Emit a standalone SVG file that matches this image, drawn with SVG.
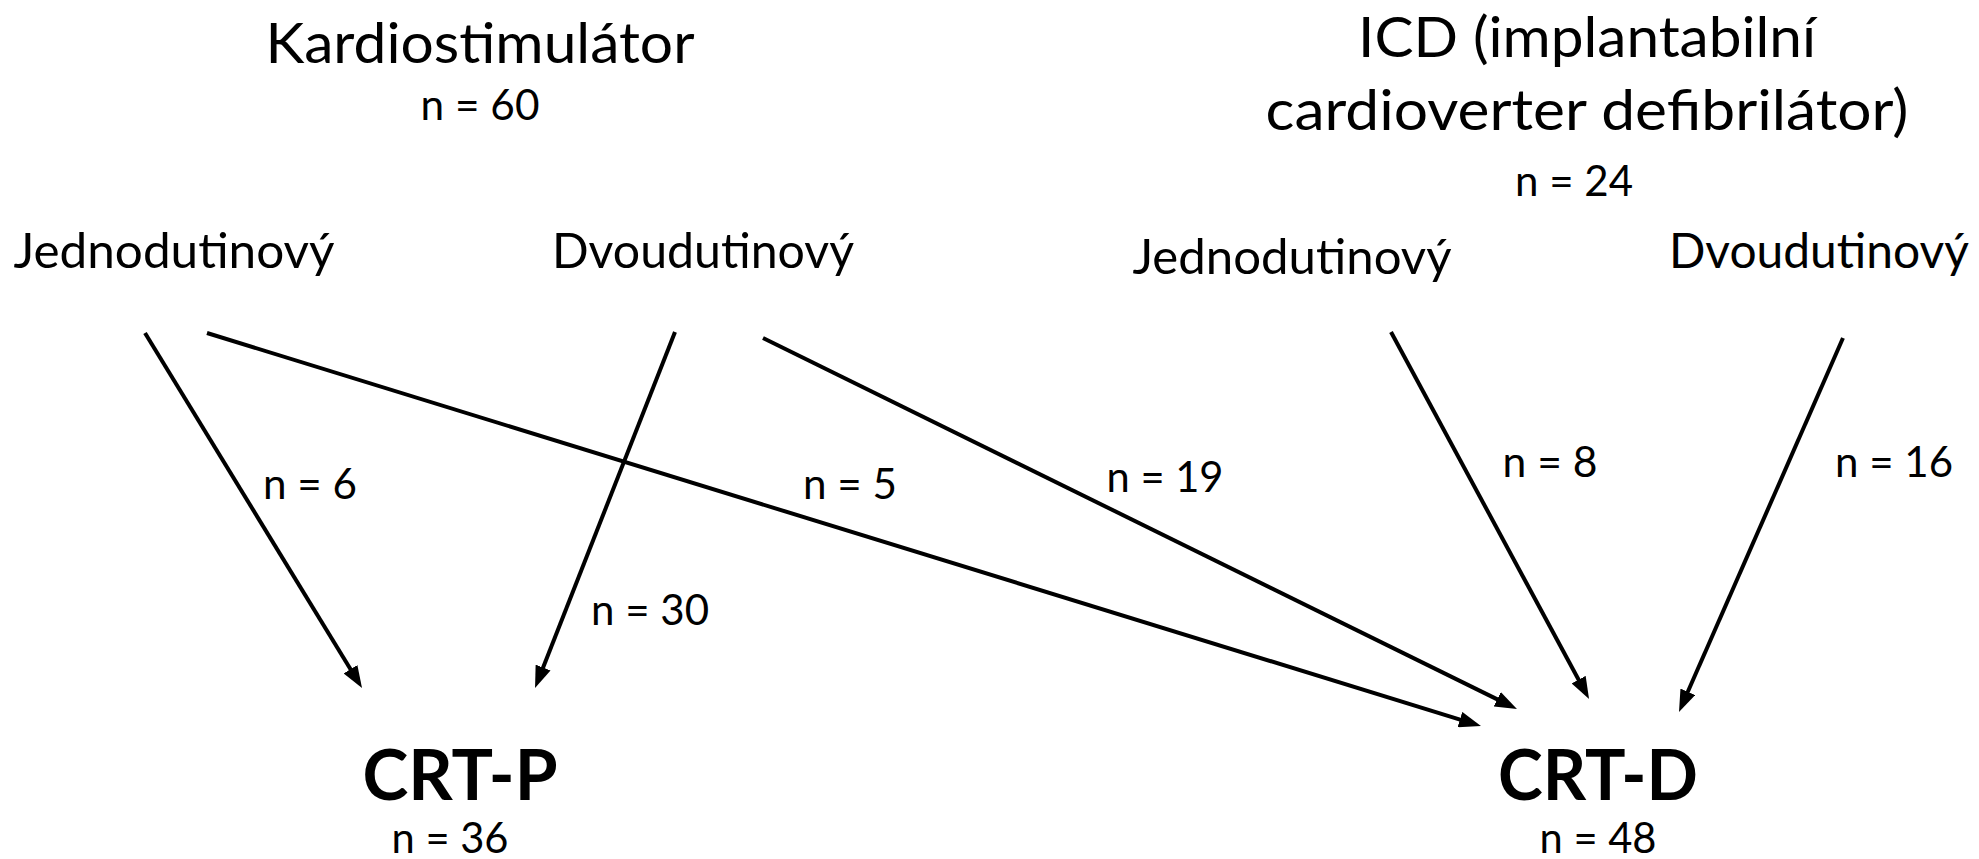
<svg xmlns="http://www.w3.org/2000/svg" width="1979" height="859" viewBox="0 0 1979 859">
<style>
text{font-family:Lato,"Open Sans","Liberation Sans",sans-serif;fill:#000;text-anchor:middle}
.title{font-size:56px}
.sub{font-size:48px}
.n{font-size:42px}
.big{font-size:70px;font-weight:bold}
.edge{fill:none;stroke:#000;stroke-width:4;marker-end:url(#ah)}
</style>
<defs>
<marker id="ah" markerUnits="userSpaceOnUse" viewBox="0 0 22 16" markerWidth="22" markerHeight="16" refX="12" refY="8" orient="auto">
<path d="M0,0 L22,8 L0,16 z" fill="#000"/>
</marker>
</defs>
<rect width="1979" height="859" fill="#fff"/>
<g id="kardiostimulator">
<text class="title" x="480" y="63" textLength="429" lengthAdjust="spacingAndGlyphs">Kardiostimulátor</text>
<text class="n" x="480" y="120" textLength="119" lengthAdjust="spacingAndGlyphs">n = 60</text>
</g>
<g id="icd">
<text class="title" x="1587" y="57" textLength="458" lengthAdjust="spacingAndGlyphs">ICD (implantabilní</text>
<text class="title" x="1587" y="130" textLength="643" lengthAdjust="spacingAndGlyphs">cardioverter defibrilátor)</text>
<text class="n" x="1574" y="196" textLength="118" lengthAdjust="spacingAndGlyphs">n = 24</text>
</g>
<g id="ks-jedno"><text class="sub" x="174" y="268" textLength="321" lengthAdjust="spacingAndGlyphs">Jednodutinový</text></g>
<g id="ks-dvou"><text class="sub" x="703" y="268" textLength="302" lengthAdjust="spacingAndGlyphs">Dvoudutinový</text></g>
<g id="icd-jedno"><text class="sub" x="1292" y="274" textLength="319" lengthAdjust="spacingAndGlyphs">Jednodutinový</text></g>
<g id="icd-dvou"><text class="sub" x="1819" y="268" textLength="300" lengthAdjust="spacingAndGlyphs">Dvoudutinový</text></g>
<g id="crt-p">
<text class="big" x="460" y="800" textLength="195" lengthAdjust="spacingAndGlyphs">CRT-P</text>
<text class="n" x="450" y="853" textLength="117" lengthAdjust="spacingAndGlyphs">n = 36</text>
</g>
<g id="crt-d">
<text class="big" x="1598" y="800" textLength="200" lengthAdjust="spacingAndGlyphs">CRT-D</text>
<text class="n" x="1598" y="853" textLength="117" lengthAdjust="spacingAndGlyphs">n = 48</text>
</g>
<g id="connectors">
<line class="edge" x1="145" y1="333" x2="356.8" y2="679.5"/>
<line class="edge" x1="207" y1="333" x2="1471.4" y2="723.1"/>
<line class="edge" x1="675" y1="332" x2="538.7" y2="678.7"/>
<line class="edge" x1="763" y1="338" x2="1508" y2="704.6"/>
<line class="edge" x1="1391" y1="332" x2="1584.3" y2="690.2"/>
<line class="edge" x1="1843" y1="338" x2="1683" y2="702.8"/>
<text class="n" x="310" y="499" textLength="94" lengthAdjust="spacingAndGlyphs">n = 6</text>
<text class="n" x="850" y="499" textLength="94" lengthAdjust="spacingAndGlyphs">n = 5</text>
<text class="n" x="1165" y="492" textLength="117" lengthAdjust="spacingAndGlyphs">n = 19</text>
<text class="n" x="650" y="625" textLength="118" lengthAdjust="spacingAndGlyphs">n = 30</text>
<text class="n" x="1550" y="477" textLength="95" lengthAdjust="spacingAndGlyphs">n = 8</text>
<text class="n" x="1894" y="477" textLength="118" lengthAdjust="spacingAndGlyphs">n = 16</text>
</g>
</svg>
